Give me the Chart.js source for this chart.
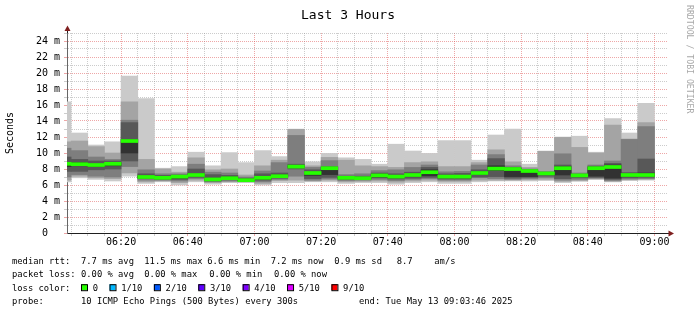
<!DOCTYPE html>
<html>
<head>
<meta charset="utf-8">
<script src="https://cdn.jsdelivr.net/npm/chart.js@4"></script>
<style>
  body { margin: 0; background: #fff; }
  #wrap { width: 697px; height: 315px; }
</style>
</head>
<body>
<div id="wrap"><canvas id="smoke" width="697" height="315"></canvas></div>
<script>
// 5-minute slots (start of each interval)
const slots = [
  '06:00', '06:05', '06:10', '06:15', '06:20', '06:25', '06:30', '06:35', '06:40',
  '06:45', '06:50', '06:55', '07:00', '07:05', '07:10', '07:15', '07:20', '07:25',
  '07:30', '07:35', '07:40', '07:45', '07:50', '07:55', '08:00', '08:05', '08:10',
  '08:15', '08:20', '08:25', '08:30', '08:35', '08:40', '08:45', '08:50', '08:55'
];

// sorted ping rtts per slot (ms), ping1 = fastest, ping10 = slowest
const ping1  = [6.4, 6.9, 6.7, 6.5, 7.1, 6.2, 6.4, 6.0, 6.4, 6.1, 6.3, 6.3, 6.0, 6.3, 6.3, 6.4, 6.4, 6.2, 6.3, 6.3, 6.1, 6.3, 6.4, 6.2, 6.2, 6.4, 6.5, 6.5, 6.5, 6.55, 6.3, 6.45, 6.7, 6.4, 6.55, 6.6];
const ping2  = [6.6, 7.1, 6.9, 6.8, 7.5, 6.4, 6.5, 6.3, 6.6, 6.3, 6.4, 6.4, 6.2, 6.55, 6.6, 6.5, 6.6, 6.4, 6.45, 6.5, 6.35, 6.5, 6.6, 6.45, 6.45, 6.6, 6.6, 6.6, 6.65, 6.7, 6.45, 6.55, 6.75, 6.45, 6.65, 6.7];
const ping3  = [7.0, 7.3, 7.1, 7.0, 8.3, 6.6, 6.6, 6.5, 6.8, 6.4, 6.5, 6.45, 6.4, 6.7, 7.1, 6.6, 6.75, 6.55, 6.6, 6.7, 6.55, 6.7, 6.8, 6.6, 6.6, 6.9, 6.8, 6.7, 6.8, 6.9, 6.6, 6.7, 6.85, 6.55, 6.75, 6.8];
const ping4  = [7.7, 7.7, 7.9, 8.0, 9.0, 6.8, 6.7, 6.7, 6.95, 6.5, 6.65, 6.5, 6.6, 6.85, 8.0, 6.8, 6.95, 6.7, 6.7, 6.9, 6.75, 6.85, 6.95, 6.75, 6.75, 7.0, 7.05, 6.85, 6.95, 7.1, 6.8, 6.9, 6.95, 6.7, 6.9, 6.95];
const ping5  = [8.3, 8.4, 8.3, 8.4, 10.0, 6.9, 6.85, 6.85, 7.1, 6.6, 6.75, 6.55, 6.7, 7.0, 8.2, 7.2, 7.3, 6.8, 6.8, 7.0, 6.9, 7.1, 7.15, 6.9, 6.9, 7.3, 7.8, 7.05, 7.05, 7.35, 7.25, 7.1, 7.1, 6.85, 7.1, 7.1];
const ping6  = [8.8, 8.8, 8.6, 8.8, 11.7, 7.1, 7.0, 7.15, 7.4, 6.85, 7.0, 6.7, 7.05, 7.25, 8.4, 7.6, 8.2, 7.0, 6.95, 7.35, 7.2, 7.35, 7.9, 7.2, 7.2, 7.65, 8.4, 8.1, 7.85, 7.5, 8.3, 7.3, 8.2, 8.5, 7.35, 7.5];
const ping7  = [9.5, 9.2, 9.0, 9.0, 13.8, 7.4, 7.2, 7.25, 8.0, 7.3, 7.2, 6.85, 7.4, 7.5, 8.6, 7.9, 8.3, 7.1, 7.1, 7.5, 7.4, 7.6, 8.2, 7.4, 7.45, 7.9, 9.3, 8.2, 7.9, 7.55, 8.5, 7.35, 8.35, 8.7, 7.55, 9.25];
const ping8  = [10.6, 10.3, 9.5, 9.2, 14.1, 7.9, 7.4, 7.4, 8.6, 7.6, 7.5, 7.0, 7.75, 8.8, 12.2, 8.2, 9.05, 7.3, 7.4, 7.8, 7.9, 8.2, 8.5, 7.65, 7.7, 8.5, 9.8, 8.4, 8.0, 7.7, 9.9, 7.5, 8.5, 9.0, 11.7, 13.3];
const ping9  = [11.4, 11.5, 10.8, 10.0, 16.4, 9.2, 8.0, 7.6, 9.4, 7.9, 8.0, 7.25, 8.4, 9.1, 12.95, 8.4, 9.45, 9.1, 8.4, 8.3, 8.2, 8.8, 8.9, 8.3, 8.3, 8.8, 10.4, 8.9, 8.2, 10.2, 11.95, 10.7, 10.0, 13.5, 11.75, 13.8];
const ping10 = [16.4, 12.5, 11.0, 11.4, 19.6, 16.8, 8.1, 8.3, 10.1, 8.4, 10.05, 8.8, 10.3, 9.55, 13.0, 8.9, 9.95, 9.4, 9.2, 8.6, 11.1, 10.25, 9.95, 11.55, 11.55, 9.1, 12.25, 13.0, 8.6, 10.25, 12.0, 12.1, 10.1, 14.3, 12.5, 16.2];
const median = [8.65, 8.6, 8.5, 8.65, 11.5, 7.0, 6.9, 7.05, 7.25, 6.7, 6.85, 6.6, 6.9, 7.1, 8.3, 7.5, 8.1, 6.9, 6.85, 7.2, 7.05, 7.25, 7.6, 7.05, 7.05, 7.5, 8.05, 8.0, 7.75, 7.45, 8.1, 7.2, 8.1, 8.25, 7.25, 7.25];

const rttStats  = ['7.7 ms avg', '11.5 ms max', '6.6 ms min', '7.2 ms now', '0.9 ms sd', '8.7', 'am/s'];
const lossStats = ['0.00 % avg', '0.00 % max', '0.00 % min', '0.00 % now'];
const lossLabels = ['0', '1/10', '2/10', '3/10', '4/10', '5/10', '9/10'];
const lossColors = ['#26ff00', '#00b8ff', '#0059ff', '#5e00ff', '#7e00ff', '#dd00ff', '#ff0000'];

const toMin = s => { const [h, m] = s.split(':').map(Number); return h * 60 + m; };
const endMin = toMin('09:03') + 46 / 60;
const startMin = endMin - 180;
const centers = slots.map(s => toMin(s) + 2.5);
const fmt = v => {
  const h = Math.floor(v / 60), m = Math.round(v % 60);
  return String(h).padStart(2, '0') + ':' + String(m).padStart(2, '0');
};

const MONO = 'DejaVu Sans Mono';
const majorGrid = 'rgba(222,80,80,0.5)';
const minorGrid = 'rgba(143,143,143,0.45)';

// smoke bands, outermost first
const lows  = [ping1, ping2, ping3, ping4, ping5];
const highs = [ping10, ping9, ping8, ping7, ping6];
const bandColors = ['#cacaca', '#a4a4a4', '#7e7e7e', '#585858', '#323232'];

const datasets = [{
  label: 'median',
  data: centers.map((x, i) => ({ x: x, y: [median[i] - 0.19, median[i] + 0.19] })),
  backgroundColor: lossColors[0],
  order: 0
}];
for (let b = 4; b >= 0; b--) {
  datasets.push({
    label: 'smoke' + b,
    data: centers.map((x, i) => ({ x: x, y: [lows[b][i], highs[b][i]] })),
    backgroundColor: bandColors[b],
    order: 5 - b
  });
}

const decor = {
  id: 'decor',
  afterDraw(chart) {
    const ctx = chart.ctx;
    const a = chart.chartArea;
    ctx.save();
    // axis arrows
    ctx.fillStyle = '#7f1f1f';
    ctx.strokeStyle = '#1f1f1f';
    ctx.lineWidth = 1;
    ctx.beginPath();
    ctx.moveTo(a.left + 0.5, a.top); ctx.lineTo(a.left + 0.5, a.top - 3);
    ctx.moveTo(a.right, a.bottom + 0.5); ctx.lineTo(a.right + 2, a.bottom + 0.5);
    ctx.stroke();
    ctx.beginPath();
    ctx.moveTo(a.left + 0.5, a.top - 7.5); ctx.lineTo(a.left + 3.5, a.top - 2); ctx.lineTo(a.left - 2.5, a.top - 2);
    ctx.closePath(); ctx.fill();
    ctx.beginPath();
    ctx.moveTo(a.right + 7, a.bottom + 0.5); ctx.lineTo(a.right + 1.5, a.bottom - 2.5); ctx.lineTo(a.right + 1.5, a.bottom + 3.5);
    ctx.closePath(); ctx.fill();

    // title
    ctx.fillStyle = '#000';
    ctx.textBaseline = 'alphabetic';
    ctx.textAlign = 'center';
    ctx.font = '13px "' + MONO + '"';
    ctx.fillText('Last 3 Hours', 348, 18.5);

    // watermark
    ctx.save();
    ctx.translate(689, 5);
    ctx.rotate(Math.PI / 2);
    ctx.textAlign = 'left';
    ctx.textBaseline = 'middle';
    ctx.fillStyle = '#a8a8a8';
    ctx.font = '8.2px "' + MONO + '"';
    ctx.fillText('RRDTOOL / TOBI OETIKER', 0, 0);
    ctx.restore();

    // legend rows
    ctx.textAlign = 'left';
    ctx.textBaseline = 'alphabetic';
    ctx.fillStyle = '#000';
    ctx.font = '8.8px "' + MONO + '"';
    const rows = [263.5, 277, 290.7, 304.3];
    ctx.fillText('median rtt:', 12, rows[0]);
    [81, 144.3, 207.3, 270.7, 334.3, 396.7, 434.3].forEach((x, i) => ctx.fillText(rttStats[i], x, rows[0]));
    ctx.fillText('packet loss:', 12, rows[1]);
    [81, 144.3, 209.3, 274].forEach((x, i) => ctx.fillText(lossStats[i], x, rows[1]));
    ctx.fillText('loss color:', 12, rows[2]);
    let x = 81;
    lossLabels.forEach((lab, i) => {
      ctx.fillStyle = lossColors[i];
      ctx.fillRect(x, rows[2] - 6.5, 6, 6);
      ctx.strokeStyle = '#000';
      ctx.strokeRect(x + 0.5, rows[2] - 6, 6, 6);
      ctx.fillStyle = '#000';
      const lx = x + 11.7;
      ctx.fillText(lab, lx, rows[2]);
      x = lx + ctx.measureText(lab).width + 11.5;
    });
    ctx.fillText('probe:', 12, rows[3]);
    ctx.fillText('10 ICMP Echo Pings (500 Bytes) every 300s', 81, rows[3]);
    ctx.fillText('end: Tue May 13 09:03:46 2025', 359, rows[3]);
    ctx.restore();
  }
};

new Chart(document.getElementById('smoke'), {
  type: 'bar',
  data: { datasets: datasets },
  options: {
    responsive: false,
    animation: false,
    devicePixelRatio: 1,
    layout: { padding: { left: 0, right: 30, top: 33, bottom: 62 } },
    datasets: {
      bar: { grouped: false, barPercentage: 1, categoryPercentage: 1, borderWidth: 0 }
    },
    plugins: { legend: { display: false }, tooltip: { enabled: false }, title: { display: false } },
    scales: {
      x: {
        type: 'linear',
        min: startMin,
        max: endMin,
        offset: false,
        z: 1,
        afterBuildTicks: s => {
          // ticks on whole 5-minute marks inside the window
          const ticks = [];
          for (let v = Math.ceil(s.min / 5) * 5; v <= s.max; v += 5) ticks.push({ value: v });
          s.ticks = ticks;
        },
        grid: {
          offset: false,
          color: c => (c.tick && Math.round(c.tick.value) % 20 === 0) ? majorGrid : minorGrid,
          tickLength: 3
        },
        border: { color: '#1f1f1f', dash: [1, 1] },
        ticks: {
          autoSkip: false,
          maxRotation: 0,
          padding: 0,
          color: '#000',
          font: { family: MONO, size: 10 },
          callback: v => Math.round(v) % 20 === 0 ? fmt(v) : ''
        },
        afterFit: s => { s.height = 20; }
      },
      y: {
        min: 0,
        max: 25,
        z: 1,
        grid: {
          color: c => (c.index % 2 === 0) ? majorGrid : minorGrid,
          tickLength: 3
        },
        border: { color: '#666', dash: [1, 1] },
        ticks: {
          stepSize: 1,
          autoSkip: false,
          padding: 4,
          color: '#000',
          font: { family: MONO, size: 10 },
          callback: v => v === 0 ? '0  ' : (v % 2 === 0 ? v + ' m' : '')
        },
        title: {
          display: true,
          text: 'Seconds',
          color: '#000',
          font: { family: MONO, size: 10 },
          padding: { top: 4, bottom: 0 }
        },
        afterFit: s => { s.width = 67; }
      }
    }
  },
  plugins: [decor]
});
</script>
</body>
</html>
